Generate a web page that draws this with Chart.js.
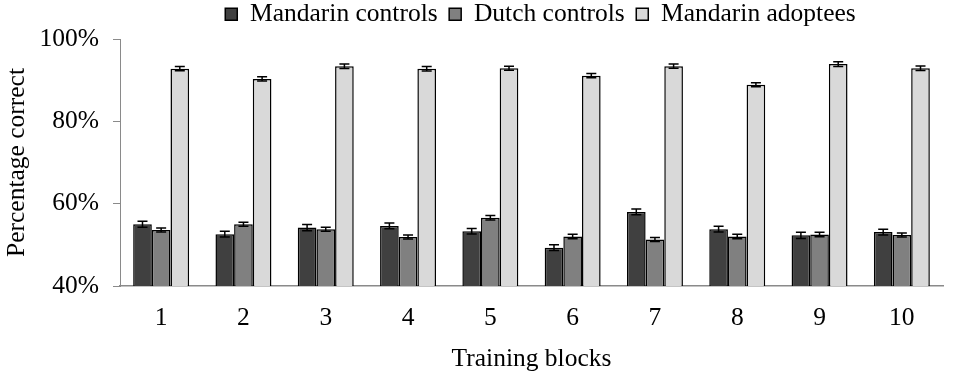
<!DOCTYPE html>
<html>
<head>
<meta charset="utf-8">
<script src="https://cdn.jsdelivr.net/npm/chart.js@4"></script>
<style>
  html, body { margin: 0; padding: 0; background: #fff; }
  #wrap { width: 953px; height: 377px; }
</style>
</head>
<body>
<div id="wrap"><canvas id="chart" width="953" height="377"></canvas></div>
<script>
// Training blocks 1..10
const blocks = ["1", "2", "3", "4", "5", "6", "7", "8", "9", "10"];

// Percentage correct per group
const mandarinControls = [55.0, 52.6, 54.2, 54.6, 53.3, 49.3, 58.0, 53.8, 52.3, 53.1];
const dutchControls = [53.6, 55.0, 53.8, 51.9, 56.6, 52.0, 51.3, 52.0, 52.5, 52.4];
const mandarinAdoptees = [92.8, 90.3, 93.4, 92.8, 92.9, 91.1, 93.4, 88.9, 93.9, 92.9];

// standard errors (half length of the error bars)
const mandarinControlsErr = [0.7, 0.7, 0.75, 0.7, 0.65, 0.7, 0.7, 0.7, 0.75, 0.7];
const dutchControlsErr = [0.5, 0.5, 0.5, 0.5, 0.55, 0.55, 0.5, 0.55, 0.55, 0.5];
const mandarinAdopteesErr = [0.5, 0.5, 0.55, 0.55, 0.5, 0.5, 0.5, 0.5, 0.55, 0.55];

const yTicks = [40, 60, 80, 100];

const FONT = "'Liberation Serif', 'Times New Roman', serif";
const FONT_SIZE = 25.5;
const AXIS_GREY = "#8a8a8a";

// draws the error bars from each dataset's err array
const errorBars = {
    id: "errorBars",
    afterDatasetsDraw(chart) {
        const ctx = chart.ctx;
        const y = chart.scales.y;
        ctx.save();
        ctx.strokeStyle = "#000";
        ctx.lineWidth = 1.5;
        chart.data.datasets.forEach((ds, i) => {
            const meta = chart.getDatasetMeta(i);
            meta.data.forEach((bar, j) => {
                const v = ds.data[j];
                const e = ds.err[j];
                const top = y.getPixelForValue(v + e);
                const bot = y.getPixelForValue(v - e);
                const half = 5;
                ctx.beginPath();
                ctx.moveTo(bar.x, top);
                ctx.lineTo(bar.x, bot);
                ctx.moveTo(bar.x - half, top);
                ctx.lineTo(bar.x + half, top);
                ctx.moveTo(bar.x - half, bot);
                ctx.lineTo(bar.x + half, bot);
                ctx.stroke();
            });
        });
        ctx.restore();
    },
};

// the legend sits centred over the plot area, not the whole canvas
const legendShift = {
    id: "legendShift",
    afterLayout(chart) {
        const lg = chart.legend;
        lg.left += 69;
        lg.right += 69;
        lg.top -= 2;
        lg.bottom -= 2;
    },
};

new Chart(document.getElementById("chart"), {
    type: "bar",
    data: {
        labels: blocks,
        datasets: [
            {
                label: "Mandarin controls",
                data: mandarinControls,
                err: mandarinControlsErr,
                backgroundColor: "#404040",
                borderColor: "#000",
                borderWidth: 1.5,
            },
            {
                label: "Dutch controls",
                data: dutchControls,
                err: dutchControlsErr,
                backgroundColor: "#808080",
                borderColor: "#000",
                borderWidth: 1.5,
            },
            {
                label: "Mandarin adoptees",
                data: mandarinAdoptees,
                err: mandarinAdopteesErr,
                backgroundColor: "#d9d9d9",
                borderColor: "#000",
                borderWidth: 1.5,
            },
        ],
    },
    options: {
        responsive: false,
        animation: false,
        layout: { padding: { top: -8, right: 10, bottom: 0, left: 0 } },
        datasets: {
            bar: { categoryPercentage: 0.68, barPercentage: 1.0 },
        },
        plugins: {
            legend: {
                display: true,
                position: "top",
                labels: {
                    color: "#000",
                    boxWidth: 12,
                    boxHeight: 12,
                    padding: 11.5,
                    font: { family: FONT, size: FONT_SIZE },
                },
            },
            tooltip: { enabled: false },
        },
        scales: {
            x: {
                grid: { drawOnChartArea: false, drawTicks: false },
                border: { color: AXIS_GREY, width: 1.5 },
                ticks: { color: "#000", padding: 17, font: { family: FONT, size: FONT_SIZE } },
                title: {
                    display: true,
                    text: "Training blocks",
                    color: "#000",
                    padding: { top: 10, bottom: 2 },
                    font: { family: FONT, size: FONT_SIZE },
                },
                afterFit(scale) {
                    scale.height = 91;
                },
            },
            y: {
                min: 40,
                max: 100,
                afterBuildTicks(scale) {
                    scale.ticks = yTicks.map((v) => ({ value: v }));
                },
                grid: { drawOnChartArea: false, drawTicks: true, tickLength: 7, color: AXIS_GREY },
                border: { color: AXIS_GREY, width: 1 },
                ticks: {
                    color: "#000",
                    padding: 14,
                    font: { family: FONT, size: FONT_SIZE },
                    callback: (v) => v + "%",
                },
                title: {
                    display: true,
                    text: "Percentage correct",
                    color: "#000",
                    padding: { top: 2, bottom: 4 },
                    font: { family: FONT, size: FONT_SIZE },
                },
                afterFit(scale) {
                    scale.width = 120;
                },
            },
        },
    },
    plugins: [errorBars, legendShift],
});
</script>
</body>
</html>
